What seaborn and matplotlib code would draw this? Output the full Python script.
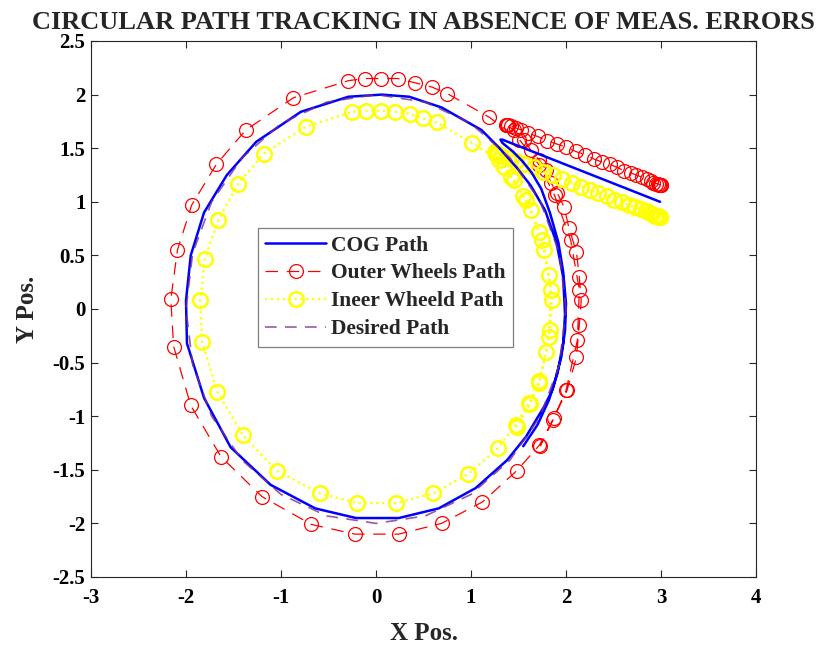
import matplotlib
matplotlib.use("Agg")
import matplotlib.pyplot as plt
import seaborn as sns
import pandas as pd

sns.set_style("ticks")
plt.rcParams["font.family"] = ["Liberation Serif", "DejaVu Serif"]
plt.rcParams["font.weight"] = "bold"

# --- centre-of-gravity trajectory (lead-in, hook, first lap, partial second lap)
cog_x = [2.99, 1.33, 1.31, 1.33, 1.37, 1.44, 1.54, 1.64, 1.74, 1.83, 1.92, 1.97, 2.00,
         1.99, 1.95, 1.86, 1.77, 1.58, 1.38, 1.05, 0.66, 0.24, -0.21, -0.64, -1.11,
         -1.53, -1.81, -1.99, -2.00, -1.95, -1.81, -1.57, -1.26, -0.79, -0.29, 0.06,
         0.35, 0.69, 1.11, 1.30, 1.48, 1.63, 1.78, 1.90, 1.97, 1.99, 1.97, 1.91,
         1.82, 1.70, 1.55]
cog_y = [1.00, 1.58, 1.58, 1.55, 1.52, 1.47, 1.38, 1.27, 1.12, 0.90, 0.62, 0.35, 0.05,
         -0.20, -0.45, -0.75, -0.91, -1.19, -1.41, -1.67, -1.86, -1.95, -1.95, -1.86,
         -1.64, -1.29, -0.83, -0.32, 0.08, 0.50, 0.90, 1.25, 1.56, 1.84, 1.98, 2.00,
         1.98, 1.88, 1.67, 1.50, 1.32, 1.15, 0.92, 0.62, 0.30, -0.05, -0.32, -0.60,
         -0.85, -1.08, -1.28]

# --- outer (left) wheel samples
outer_x = [3.00, 3.00, 2.99, 2.98, 2.97, 2.95, 2.92, 2.89, 2.85, 2.80, 2.74, 2.68, 2.61,
           2.54, 2.46, 2.38, 2.29, 2.20, 2.10, 2.00, 1.90, 1.80, 1.70, 1.60, 1.53, 1.47,
           1.42, 1.39, 1.38, 1.38, 1.37,
           1.45, 1.56, 1.63, 1.72, 1.79, 1.84, 1.91, 1.98, 2.03, 2.11, 2.14, 2.16, 2.14,
           2.11, 2.01, 1.87, 1.72, 1.48, 1.12, 0.69, 0.24, -0.22, -0.68, -1.20, -1.63,
           -1.95, -2.13, -2.16, -2.09, -1.94, -1.68, -1.37, -0.87, -0.29, -0.12, 0.05,
           0.23, 0.41, 0.59, 0.75, 1.19,
           1.51, 1.72, 1.88, 2.05, 2.14, 2.12, 2.00, 1.86, 1.73]
outer_y = [1.16, 1.16, 1.16, 1.16, 1.17, 1.17, 1.18, 1.19, 1.21, 1.23, 1.25, 1.27, 1.29,
           1.32, 1.35, 1.37, 1.40, 1.44, 1.47, 1.51, 1.54, 1.57, 1.61, 1.64, 1.67, 1.69,
           1.71, 1.72, 1.72, 1.72, 1.72,
           1.67, 1.58, 1.48, 1.39, 1.30, 1.18, 1.08, 0.95, 0.76, 0.53, 0.30, 0.08, -0.15,
           -0.45, -0.76, -1.02, -1.27, -1.51, -1.80, -2.00, -2.10, -2.10, -2.01, -1.75,
           -1.38, -0.90, -0.35, 0.09, 0.55, 0.97, 1.35, 1.67, 1.97, 2.13, 2.15, 2.15,
           2.15, 2.11, 2.07, 2.01, 1.79,
           1.58, 1.34, 1.06, 0.64, 0.18, -0.29, -0.76, -1.04, -1.28]

# --- inner (right) wheel samples
inner_x = [2.99, 2.99, 2.98, 2.97, 2.96, 2.94, 2.91, 2.88, 2.84, 2.79, 2.73, 2.66, 2.59,
           2.51, 2.43, 2.34, 2.25, 2.16, 2.06, 1.96, 1.86, 1.76, 1.66, 1.56, 1.47, 1.39,
           1.32, 1.28, 1.26, 1.25, 1.25,
           1.35, 1.45, 1.55, 1.63, 1.72, 1.77, 1.82, 1.85, 1.83, 1.79, 1.72, 1.61, 1.47,
           1.28, 0.97, 0.60, 0.21, -0.20, -0.59, -1.04, -1.40, -1.67, -1.83, -1.85,
           -1.80, -1.66, -1.45, -1.18, -0.74, -0.25, -0.11, 0.05, 0.20, 0.36, 0.49, 0.64,
           1.01,
           1.29, 1.42, 1.58, 1.75, 1.84, 1.82, 1.72, 1.62, 1.48]
inner_y = [0.86, 0.86, 0.86, 0.87, 0.87, 0.87, 0.89, 0.90, 0.91, 0.93, 0.95, 0.97, 1.00,
           1.02, 1.05, 1.08, 1.11, 1.14, 1.18, 1.21, 1.25, 1.28, 1.32, 1.35, 1.38, 1.41,
           1.43, 1.45, 1.45, 1.46, 1.46,
           1.32, 1.20, 1.05, 0.92, 0.72, 0.55, 0.32, 0.08, -0.20, -0.40, -0.67, -0.88,
           -1.08, -1.30, -1.54, -1.72, -1.81, -1.81, -1.72, -1.51, -1.18, -0.77, -0.31,
           0.08, 0.47, 0.83, 1.17, 1.45, 1.70, 1.84, 1.85, 1.85, 1.84, 1.82, 1.78, 1.74,
           1.55,
           1.39, 1.23, 1.02, 0.64, 0.18, -0.26, -0.69, -0.89, -1.10]

# --- reference circle of radius 2
desired_x = [2.00, 1.93, 1.73, 1.41, 1.00, 0.52, 0.00, -0.52, -1.00, -1.41, -1.73, -1.93,
             -2.00, -1.93, -1.73, -1.41, -1.00, -0.52, 0.00, 0.52, 1.00, 1.41, 1.73, 1.93,
             2.00]
desired_y = [0.00, 0.52, 1.00, 1.41, 1.73, 1.93, 2.00, 1.93, 1.73, 1.41, 1.00, 0.52,
             0.00, -0.52, -1.00, -1.41, -1.73, -1.93, -2.00, -1.93, -1.73, -1.41, -1.00,
             -0.52, 0.00]

x_ticks = [-3, -2, -1, 0, 1, 2, 3, 4]
y_ticks = [-2.5, -2, -1.5, -1, -0.5, 0, 0.5, 1, 1.5, 2, 2.5]
y_tick_labels = ["-2.5", "-2", "-1.5", "-1", "-0.5", "0", "0.5", "1", "1.5", "2", "2.5"]

cog = pd.DataFrame({"x": cog_x, "y": cog_y})
outer = pd.DataFrame({"x": outer_x, "y": outer_y})
inner = pd.DataFrame({"x": inner_x, "y": inner_y})
desired = pd.DataFrame({"x": desired_x, "y": desired_y})

fig = plt.figure(figsize=(8.22, 6.46), dpi=100)
ax = fig.add_axes([91 / 822, 1 - 577 / 646, (756 - 91) / 822, (577 - 41) / 646])

sns.lineplot(data=cog, x="x", y="y", sort=False, estimator=None, ax=ax,
             color="#0000ff", lw=1.8, label="COG Path", zorder=3)
sns.lineplot(data=outer, x="x", y="y", sort=False, estimator=None, ax=ax,
             color="#ff0000", lw=0.9, dashes=(10, 7), marker="o", markersize=10,
             markerfacecolor="none", markeredgecolor="#ff0000", markeredgewidth=0.9,
             label="Outer Wheels Path", zorder=2)
sns.lineplot(data=inner, x="x", y="y", sort=False, estimator=None, ax=ax,
             color="#ffff00", lw=1.6, linestyle=":", marker="o", markersize=10.5,
             markerfacecolor="none", markeredgecolor="#ffff00", markeredgewidth=1.8,
             label="Ineer Wheeld Path", zorder=2)
sns.lineplot(data=desired, x="x", y="y", sort=False, estimator=None, ax=ax,
             color="#7e2f8e", lw=1.2, dashes=(7, 5), label="Desired Path",
             zorder=4, alpha=0.8)

ax.set_xlim(-3, 4)
ax.set_ylim(-2.5, 2.5)
ax.set_xticks(x_ticks)
ax.set_xticklabels([str(t) for t in x_ticks])
ax.set_yticks(y_ticks)
ax.set_yticklabels(y_tick_labels)
ax.tick_params(direction="in", top=True, right=True, length=5, width=0.8,
               labelsize=15, colors="#262626")
ax.tick_params(axis="x", pad=8)
ax.tick_params(axis="y", pad=4)
for lab in ax.get_xticklabels() + ax.get_yticklabels():
    lab.set_fontweight("bold")
    lab.set_color("black")
for sp in ax.spines.values():
    sp.set_visible(True)
    sp.set_color("#262626")
    sp.set_linewidth(0.8)

ax.set_xlabel("X Pos.", fontsize=18, fontweight="bold", labelpad=10)
ax.set_ylabel("Y Pos.", fontsize=18, fontweight="bold", labelpad=10)
ax.set_title("CIRCULAR PATH TRACKING IN ABSENCE OF MEAS. ERRORS", fontsize=19,
             fontweight="bold", pad=8.5)

leg = ax.legend(loc="upper left", bbox_to_anchor=(0.251, 0.651), fontsize=15.5,
                frameon=True, fancybox=False, edgecolor="#7f7f7f", framealpha=1,
                handlelength=2.8, numpoints=1, borderpad=0.35, labelspacing=0.36,
                handletextpad=0.25, borderaxespad=0)
leg.get_frame().set_linewidth(0.9)
for t in leg.get_texts():
    t.set_fontweight("bold")

fig.savefig("out.png", dpi=100)
